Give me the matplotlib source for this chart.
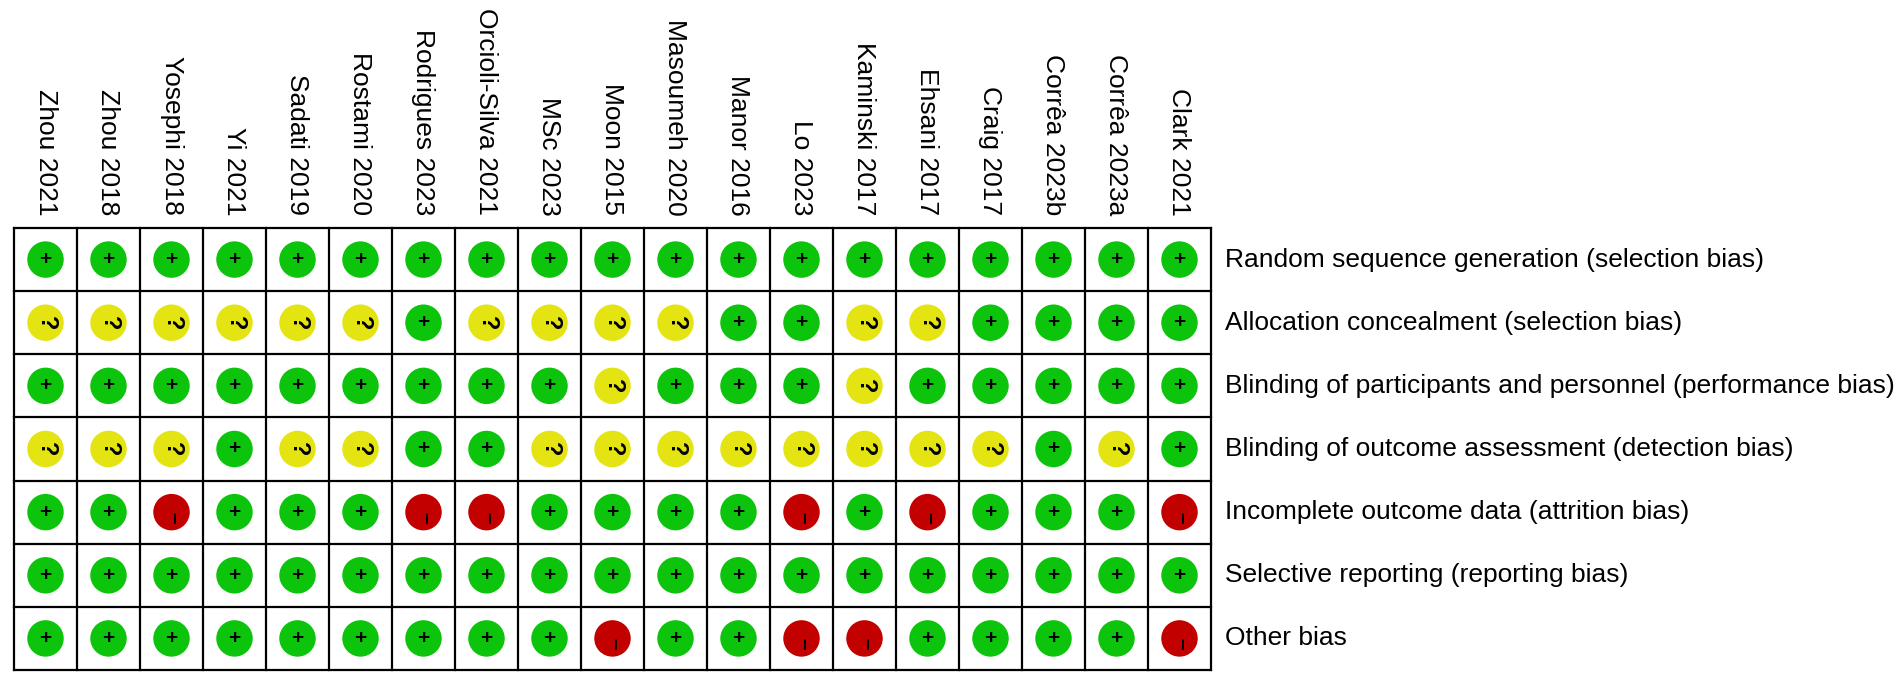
import matplotlib
matplotlib.use("Agg")
import matplotlib.pyplot as plt

plt.rcParams['font.family'] = ['Liberation Sans', 'DejaVu Sans']

studies = ["Zhou 2021", "Zhou 2018", "Yosephi 2018", "Yi 2021", "Sadati 2019",
           "Rostami 2020", "Rodrigues 2023", "Orcioli-Silva 2021", "MSc 2023",
           "Moon 2015", "Masoumeh 2020", "Manor 2016", "Lo 2023", "Kaminski 2017",
           "Ehsani 2017", "Craig 2017", "Corrêa 2023b", "Corrêa 2023a", "Clark 2021"]

domains = ["Random sequence generation (selection bias)",
           "Allocation concealment (selection bias)",
           "Blinding of participants and personnel (performance bias)",
           "Blinding of outcome assessment (detection bias)",
           "Incomplete outcome data (attrition bias)",
           "Selective reporting (reporting bias)",
           "Other bias"]

# '+' low risk, '?' unclear, '-' high risk ; columns follow `studies`
random_sequence = ["+", "+", "+", "+", "+", "+", "+", "+", "+", "+", "+", "+", "+", "+", "+", "+", "+", "+", "+"]
allocation      = ["?", "?", "?", "?", "?", "?", "+", "?", "?", "?", "?", "+", "+", "?", "?", "+", "+", "+", "+"]
blinding_part   = ["+", "+", "+", "+", "+", "+", "+", "+", "+", "?", "+", "+", "+", "?", "+", "+", "+", "+", "+"]
blinding_out    = ["?", "?", "?", "+", "?", "?", "+", "+", "?", "?", "?", "?", "?", "?", "?", "?", "+", "?", "+"]
incomplete      = ["+", "+", "-", "+", "+", "+", "-", "-", "+", "+", "+", "+", "-", "+", "-", "+", "+", "+", "-"]
selective       = ["+", "+", "+", "+", "+", "+", "+", "+", "+", "+", "+", "+", "+", "+", "+", "+", "+", "+", "+"]
other_bias      = ["+", "+", "+", "+", "+", "+", "+", "+", "+", "-", "+", "+", "-", "-", "+", "+", "+", "+", "-"]

judgements = [random_sequence, allocation, blinding_part, blinding_out,
              incomplete, selective, other_bias]

colors = {"+": "#0CC40C", "?": "#E4E412", "-": "#C20000"}

W, H = 1902, 684
fig = plt.figure(figsize=(W / 100, H / 100), dpi=100)
gl, gr, gt, gb = 14, 1211, 228, 670
ax = fig.add_axes([gl / W, (H - gb) / H, (gr - gl) / W, (gb - gt) / H])
ncol, nrow = len(studies), len(domains)
ax.set_xlim(0, ncol)
ax.set_ylim(nrow, 0)
ax.axis('off')

# grid
for i in range(ncol + 1):
    ax.plot([i, i], [0, nrow], color='black', lw=1.6, solid_capstyle='projecting', clip_on=False)
for j in range(nrow + 1):
    ax.plot([0, ncol], [j, j], color='black', lw=1.6, solid_capstyle='projecting', clip_on=False)

for r, row in enumerate(judgements):
    for c, v in enumerate(row):
        x, y = c + 0.5, r + 0.5
        ax.scatter([x], [y], s=690, color=colors[v], edgecolors='none', zorder=3)
        if v == "+":
            ax.text(x, y, "+", ha='center', va='center', fontsize=15, fontweight='bold',
                    color='black', zorder=4)
        elif v == "?":
            ax.text(x + 0.01, y, "?", ha='center', va='center', fontsize=17, fontweight='bold',
                    rotation=-90, color='black', zorder=4)
        else:
            ax.text(x + 0.04, y + 0.09, "\u2013", ha='center', va='center', fontsize=15,
                    fontweight='bold', rotation=-90, color='black', zorder=4)

for c, s in enumerate(studies):
    ax.text(c + 0.5, -0.2, s, rotation=-90, ha='center', va='bottom', fontsize=19,
            color='black', clip_on=False)

for r, d in enumerate(domains):
    ax.text(ncol + 0.22, r + 0.5, d, ha='left', va='center', fontsize=19,
            color='black', clip_on=False)

fig.savefig("out.png", dpi=100, facecolor='white')
